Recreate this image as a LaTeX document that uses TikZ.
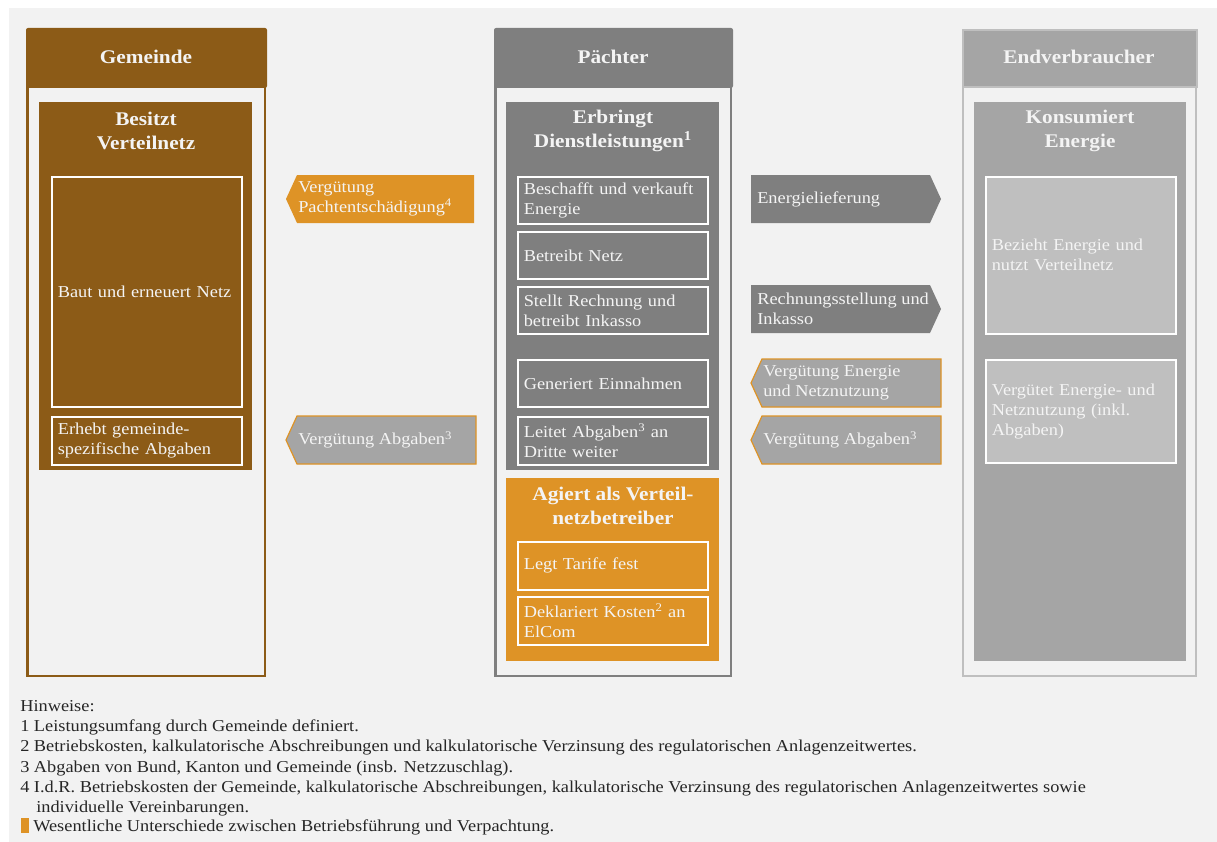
\documentclass[tikz,border=0pt]{standalone}
\usepackage{fontspec}
\setmainfont[FakeStretch=1.1]{Liberation Serif}
\usetikzlibrary{positioning}
\definecolor{bgc}{HTML}{F2F2F2}
\definecolor{brn}{HTML}{8C5B17}
\definecolor{org}{HTML}{DE9326}
\definecolor{dgr}{HTML}{7F7F7F}
\definecolor{mgr}{HTML}{A5A5A5}
\definecolor{lgr}{HTML}{BFBFBF}
\definecolor{wtx}{HTML}{F4F4F4}
\tikzset{
  pbox/.style={draw=white, line width=1.2pt, text=wtx, font=\fontsize{12.5}{15}\selectfont, align=left, anchor=north west, inner xsep=4.5pt, inner ysep=0pt},
  head/.style={text=wtx, font=\bfseries\fontsize{14.5}{18}\selectfont, align=center},
  atext/.style={text=wtx, font=\fontsize{12.5}{15}\selectfont, align=left, anchor=west, inner sep=0pt},
  notes/.style={text=black!85, font=\fontsize{12.5}{15.2}\selectfont, align=left, inner sep=0pt}
}
% \bx{name}{x}{y}{w}{h}{fill}{text}
\newcommand{\bx}[7]{\node[pbox, fill=#6, minimum width={#4*0.75pt}, minimum height={#5*0.75pt}, text width={#4*0.75pt-9pt}] (#1) at (#2,#3) {#7};}
\begin{document}
\begin{tikzpicture}[x=0.75pt,y=-0.75pt]
\useasboundingbox (0,0) rectangle (1217,842);
\fill[bgc] (9,8) rectangle (1217,842);
% ---------- Gemeinde ----------
\draw[brn, line width=2.2pt] (27.5,40) rectangle (265,676);
\fill[brn, rounded corners=1.5pt] (26,28) rectangle (267,88);
\node[head] (gem) at (146,57) {Gemeinde};
\fill[brn] (39,102) rectangle (252,470);
\node[head] (gemh) at (146,131) {Besitzt\\Verteilnetz};
\bx{g1}{51}{176}{190}{230}{brn}{Baut und erneuert Netz}
\bx{g2}{51}{416}{190}{48}{brn}{Erhebt gemeinde-\\spezifische Abgaben}
% ---------- Paechter ----------
\draw[dgr, line width=2.2pt] (495.5,40) rectangle (731,676);
\fill[dgr, rounded corners=1.5pt] (494,28) rectangle (733,88);
\node[head] (pae) at (613,57) {Pächter};
\fill[dgr] (506,102) rectangle (719,470);
\node[head] (paeh) at (613,131) {Erbringt\\Dienstleistungen\textsuperscript{1}};
\bx{p1}{517}{176}{190}{47}{dgr}{Beschafft und verkauft\\Energie}
\bx{p2}{517}{231}{190}{47}{dgr}{Betreibt Netz}
\bx{p3}{517}{286}{190}{47}{dgr}{Stellt Rechnung und\\betreibt Inkasso}
\bx{p4}{517}{359}{190}{47}{dgr}{Generiert Einnahmen}
\bx{p5}{517}{416}{190}{48}{dgr}{Leitet Abgaben\textsuperscript{3} an\\Dritte weiter}
\fill[org] (506,478) rectangle (719,661);
\node[head] (paeo) at (613,506) {Agiert als Verteil-\\netzbetreiber};
\bx{p6}{517}{541}{190}{48}{org}{Legt Tarife fest}
\bx{p7}{517}{596}{190}{48}{org}{Deklariert Kosten\textsuperscript{2} an\\ElCom}
% ---------- Endverbraucher ----------
\draw[lgr, line width=2.2pt] (963,40) rectangle (1196,676);
\draw[lgr, fill=mgr, line width=1.5pt] (962.5,30.5) rectangle (1196.5,87.5);
\node[head] (end) at (1079,57) {Endverbraucher};
\fill[mgr] (974,102) rectangle (1186,661);
\node[head] (endh) at (1080,131) {Konsumiert\\Energie};
\bx{e1}{985}{176}{190}{157}{lgr}{Bezieht Energie und\\nutzt Verteilnetz}
\bx{e2}{985}{359}{190}{103}{lgr}{Vergütet Energie- und\\Netznutzung (inkl.\\Abgaben)}
% ---------- Arrows ----------
\fill[org] (297,175) -- (474,175) -- (474,223) -- (297,223) -- (286,199) -- cycle;
\node[atext] (a1) at (298,199) {Vergütung\\Pachtentschädigung\textsuperscript{4}};
\draw[org, fill=mgr, line width=0.9pt] (297,416) -- (476,416) -- (476,464) -- (297,464) -- (286,440) -- cycle;
\node[atext] (a2) at (298,440) {Vergütung Abgaben\textsuperscript{3}};
\fill[dgr] (751,175) -- (930,175) -- (941,199) -- (930,223) -- (751,223) -- cycle;
\node[atext] (a3) at (757,199) {Energielieferung};
\fill[dgr] (751,285) -- (930,285) -- (941,309) -- (930,333) -- (751,333) -- cycle;
\node[atext] (a4) at (757,309) {Rechnungsstellung und\\Inkasso};
\draw[org, fill=mgr, line width=0.9pt] (762,359) -- (941,359) -- (941,407) -- (762,407) -- (751,383) -- cycle;
\node[atext] (a5) at (763,383) {Vergütung Energie\\und Netznutzung};
\draw[org, fill=mgr, line width=0.9pt] (762,416) -- (941,416) -- (941,464) -- (762,464) -- (751,440) -- cycle;
\node[atext] (a6) at (763,440) {Vergütung Abgaben\textsuperscript{3}};
% ---------- Notes ----------
\node[notes, anchor=north west] (nt) at (20,700) {Hinweise:\\
1 Leistungsumfang durch Gemeinde definiert.\\
2 Betriebskosten, kalkulatorische Abschreibungen und kalkulatorische Verzinsung des regulatorischen Anlagenzeitwertes.\\
3 Abgaben von Bund, Kanton und Gemeinde (insb. Netzzuschlag).\\
4 I.d.R. Betriebskosten der Gemeinde, kalkulatorische Abschreibungen, kalkulatorische Verzinsung des regulatorischen Anlagenzeitwertes sowie\\
\hspace*{12pt}individuelle Vereinbarungen.};
\fill[org] (21,818) rectangle (29,833);
\node[notes, anchor=base west] (lg) at (33,831) {Wesentliche Unterschiede zwischen Betriebsführung und Verpachtung.};
\end{tikzpicture}
\end{document}
